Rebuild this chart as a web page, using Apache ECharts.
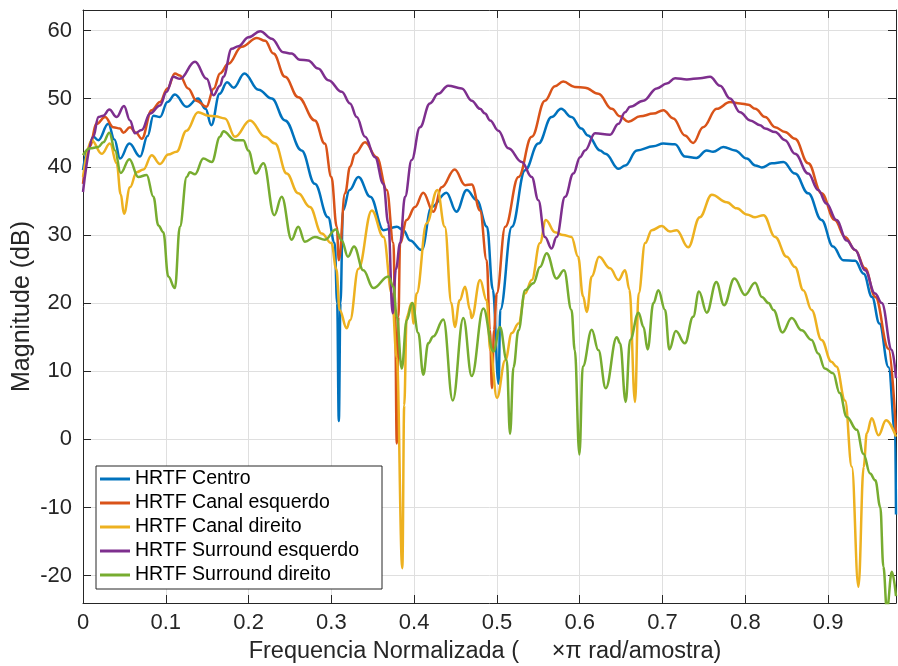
<!DOCTYPE html>
<html><head><meta charset="utf-8">
<script src="https://cdn.jsdelivr.net/npm/echarts@6/dist/echarts.min.js"></script>
<style>html,body{margin:0;padding:0;background:#fff}#c{width:898px;height:666px}</style>
</head><body><div id="c"></div>
<script>
const seriesNames = ['HRTF Centro','HRTF Canal esquerdo','HRTF Canal direito','HRTF Surround esquerdo','HRTF Surround direito'];

const hrtfCentro = [[0,39.5],[0.006,42.5],[0.0125,44.4],[0.0185,43.9],[0.0306,46.3],[0.038,44],[0.0447,41.2],[0.056,43.4],[0.069,41.5],[0.078,44.5],[0.085,47.5],[0.093,47.3],[0.102,49.5],[0.111,50.6],[0.125,48.8],[0.139,50.0],[0.148,48.5],[0.155,46.1],[0.165,50.7],[0.174,52.4],[0.182,51.6],[0.195,53.7],[0.212,51.3],[0.228,50.0],[0.244,46.8],[0.264,42.4],[0.280,37.5],[0.296,32.6],[0.304,28.8],[0.307,20],[0.309,2.7],[0.311,20],[0.314,33.6],[0.322,36.6],[0.3326,38.5],[0.347,35.6],[0.363,30.7],[0.379,31.2],[0.387,30.7],[0.395,29.2],[0.409,27.8],[0.421,34.1],[0.439,36.2],[0.451,33.4],[0.4635,36.6],[0.4756,35.1],[0.488,31.2],[0.495,22],[0.502,8.2],[0.504,19],[0.518,31.2],[0.534,39.5],[0.55,43.4],[0.566,47.3],[0.5775,48.5],[0.590,47.3],[0.602,45.6],[0.610,44.6],[0.6245,42.4],[0.631,41.9],[0.647,39.7],[0.655,40.2],[0.669,42.4],[0.689,43],[0.701,43.4],[0.715,43.3],[0.727,41.5],[0.741,41.3],[0.7534,42.4],[0.761,42.2],[0.7735,42.9],[0.7876,42.4],[0.8018,41.2],[0.812,40.2],[0.82,39.9],[0.832,40.5],[0.846,40.7],[0.860,39],[0.876,36.1],[0.892,32.2],[0.906,28.3],[0.918,26.3],[0.9326,26.2],[0.943,24.3],[0.953,20.9],[0.962,17],[0.973,10.6],[0.981,0.9],[0.982,-11]];

const hrtfCanalEsq = [[0,37.5],[0.008,43],[0.0165,46.3],[0.0266,47.3],[0.0366,45.8],[0.0447,45.6],[0.0487,45],[0.0568,45.8],[0.064,45],[0.0709,44.1],[0.083,48.3],[0.093,49.5],[0.102,51.5],[0.111,53.7],[0.117,53.4],[0.127,51.5],[0.137,49.7],[0.149,48.8],[0.158,51.5],[0.1655,53.7],[0.1755,55.1],[0.1917,57.6],[0.21,58.9],[0.22,58.5],[0.23,56.6],[0.244,53.2],[0.260,50.2],[0.280,46.8],[0.292,43.4],[0.300,38.5],[0.3065,31.2],[0.309,26.3],[0.3165,36.1],[0.3226,40],[0.3286,41.9],[0.3407,43.6],[0.3548,41.4],[0.3669,36.6],[0.375,28.8],[0.377,18],[0.379,-0.6],[0.381,18],[0.383,28.8],[0.391,32.2],[0.401,34.1],[0.411,36.2],[0.423,33.4],[0.4333,37],[0.449,39.6],[0.4615,37.3],[0.4695,37.4],[0.4796,33.6],[0.4876,26.3],[0.4915,16],[0.494,7.5],[0.4965,16],[0.4997,21.4],[0.51,31.2],[0.526,38.5],[0.542,44.4],[0.558,49.7],[0.570,51.8],[0.580,52.5],[0.594,51.7],[0.6064,51.6],[0.6225,50.7],[0.6387,48.5],[0.6487,47.4],[0.6588,46.6],[0.673,47.4],[0.689,47.8],[0.701,48.3],[0.713,47.1],[0.727,44.6],[0.737,43.5],[0.749,45.8],[0.7655,48.5],[0.7816,49.5],[0.7937,49.3],[0.8037,49.1],[0.812,48.5],[0.824,47.3],[0.836,45.8],[0.848,45.1],[0.860,44.1],[0.876,40.5],[0.892,36.1],[0.908,32.2],[0.9205,29.7],[0.9326,27.8],[0.9447,25.1],[0.957,20.9],[0.973,13.3],[0.982,0.9]];

const hrtfCanalDir = [[0,38.5],[0.0105,43.9],[0.0226,41.9],[0.0326,43.4],[0.0407,40.5],[0.0455,36],[0.0495,33.1],[0.0568,37],[0.0648,39.2],[0.0729,39.6],[0.083,41.7],[0.093,40.4],[0.103,41.8],[0.113,42.2],[0.125,45.3],[0.139,48],[0.1514,47.5],[0.1595,47.4],[0.1715,47.1],[0.1836,44.4],[0.2017,46.8],[0.22,44.4],[0.232,43.4],[0.246,39],[0.26,36.1],[0.274,34.1],[0.2883,30.2],[0.300,28.8],[0.306,25],[0.310,19],[0.3185,16.3],[0.3226,17.5],[0.3326,25],[0.3488,33.6],[0.363,29.7],[0.373,21.4],[0.379,12],[0.3857,-18.9],[0.388,5],[0.391,18],[0.397,20],[0.399,17],[0.403,21.4],[0.415,31.7],[0.428,36.6],[0.437,31.2],[0.445,20],[0.449,16.5],[0.455,20.4],[0.4615,22.4],[0.4675,19],[0.4695,17.8],[0.4796,23.4],[0.4876,20.4],[0.492,13.1],[0.5,6.1],[0.51,11.6],[0.518,15.6],[0.526,17],[0.534,21.4],[0.542,23.4],[0.552,28.8],[0.559,32.2],[0.570,30.4],[0.580,30],[0.590,29.7],[0.598,26.8],[0.604,21],[0.6085,18.7],[0.6145,23.9],[0.6233,26.8],[0.6366,25.1],[0.6467,23.4],[0.6548,24.8],[0.660,22],[0.6668,5.5],[0.6711,21.4],[0.679,28.8],[0.687,30.7],[0.699,31.3],[0.709,30.5],[0.717,30.7],[0.731,28.2],[0.745,32.6],[0.7595,35.9],[0.7776,34.8],[0.7897,33.9],[0.8018,33.0],[0.8118,32.6],[0.822,32.9],[0.836,29.7],[0.85,26.8],[0.86,25.3],[0.870,21.9],[0.880,19],[0.892,14.6],[0.904,11.4],[0.910,10.7],[0.9205,5.7],[0.9286,-4],[0.9366,-21.6],[0.943,-4],[0.9467,0.9],[0.9527,3.1],[0.9608,0.6],[0.970,2.8],[0.982,0.4]];

const hrtfSurrEsq = [[0,36.3],[0.0125,44.4],[0.0185,47.3],[0.0245,47.5],[0.0318,48.4],[0.0407,47.3],[0.0495,48.9],[0.0568,46.8],[0.0628,44.9],[0.0709,45.4],[0.081,47.8],[0.093,49],[0.101,51],[0.109,53.2],[0.117,52.9],[0.1353,55.4],[0.1494,52.9],[0.1575,50.5],[0.1655,51.9],[0.1695,53.2],[0.1796,57.3],[0.1876,57.7],[0.2,59],[0.214,59.9],[0.228,58.8],[0.242,56.8],[0.252,56.6],[0.262,55.7],[0.272,55.6],[0.284,54.4],[0.2963,52.7],[0.3125,51],[0.3225,49.3],[0.3306,47.3],[0.3407,44.4],[0.3527,41.4],[0.3628,37.5],[0.3688,31.7],[0.374,18.5],[0.378,25],[0.383,28.8],[0.389,35.6],[0.397,41],[0.407,45.8],[0.419,49.3],[0.429,50.7],[0.441,51.9],[0.4575,51.5],[0.4695,49.7],[0.4796,48.5],[0.4856,47.8],[0.4917,46.8],[0.5017,45.3],[0.5138,42.7],[0.53,40.7],[0.542,38.5],[0.55,35.1],[0.558,29.7],[0.566,28],[0.572,29.7],[0.5823,35.6],[0.5923,39],[0.6004,41.4],[0.6064,42.4],[0.6185,44.9],[0.6366,44.7],[0.6467,46.3],[0.6547,48],[0.6608,48.8],[0.6769,49.7],[0.693,51.5],[0.7051,52.2],[0.7152,53],[0.7293,52.8],[0.7454,53],[0.7574,53.2],[0.7695,51.9],[0.7816,50],[0.7937,48],[0.8058,46.8],[0.8178,46.1],[0.8239,45.6],[0.836,45.1],[0.848,43.9],[0.860,41.9],[0.876,39],[0.888,36.6],[0.898,34.6],[0.910,32.2],[0.9225,29.2],[0.9326,27.8],[0.9447,24.8],[0.9567,21.4],[0.9648,20],[0.977,13.1],[0.982,9]];

const hrtfSurrDir = [[0,41.7],[0.0085,42.7],[0.0185,42.9],[0.0245,43.6],[0.0318,45],[0.0387,42.4],[0.0455,39.1],[0.056,41.1],[0.0668,38.5],[0.0769,38.8],[0.085,35.6],[0.091,31.4],[0.097,30.4],[0.103,23.9],[0.111,22.2],[0.117,31.2],[0.1253,38.5],[0.129,39.2],[0.1353,38.9],[0.1453,41.2],[0.1555,40.7],[0.1655,44.4],[0.1695,45.2],[0.1836,43.9],[0.1937,43.9],[0.1997,42.4],[0.2086,39],[0.218,40.5],[0.231,32.9],[0.240,35.6],[0.252,29.3],[0.260,31.2],[0.268,29],[0.280,29.7],[0.2923,29.3],[0.3053,30.8],[0.3125,29.2],[0.320,26.8],[0.3274,28.3],[0.3386,24.8],[0.3507,22.2],[0.3688,23.9],[0.375,22.4],[0.379,18],[0.385,10.4],[0.391,17.5],[0.3978,20],[0.405,15.6],[0.411,9.5],[0.417,14.1],[0.423,15.1],[0.4353,17.6],[0.4466,5.7],[0.4594,17.8],[0.4695,9.3],[0.4836,19.2],[0.4957,12.9],[0.5037,16.5],[0.5118,11.6],[0.5158,0.8],[0.52,10.6],[0.526,16],[0.534,21.9],[0.544,22.9],[0.552,25.3],[0.560,27.3],[0.572,23.6],[0.581,24.8],[0.590,19],[0.594,13.1],[0.5996,-2.2],[0.6037,10.7],[0.6145,16.1],[0.6225,13.1],[0.6314,7.5],[0.6447,15],[0.6487,14.1],[0.6555,5.5],[0.6608,14.6],[0.671,18.6],[0.677,16.5],[0.682,13.2],[0.689,20],[0.695,21.9],[0.703,19],[0.7083,13.2],[0.716,15.9],[0.727,14.1],[0.737,18],[0.744,21.7],[0.7534,18.6],[0.765,23.1],[0.7743,19.7],[0.7868,23.6],[0.7997,21.2],[0.8118,23],[0.82,20.9],[0.828,20],[0.834,19],[0.8448,15.7],[0.856,17.8],[0.868,16],[0.880,14.6],[0.888,12.6],[0.896,10.4],[0.906,9.7],[0.914,6.8],[0.9225,3.3],[0.9346,1.4],[0.9426,-2.1],[0.9507,-5],[0.957,-6],[0.963,-9.9],[0.9668,-18.7],[0.971,-25],[0.977,-19.4],[0.982,-23]];

const allData = [hrtfCentro, hrtfCanalEsq, hrtfCanalDir, hrtfSurrEsq, hrtfSurrDir];
const colors = ['#0072BD','#D95319','#EDB120','#7E2F8E','#77AC30'];
const xMin = 0, xMax = 0.982, yMin = -24, yMax = 63;
const FONT = "'Liberation Sans', Arial, Helvetica, sans-serif";
const AX = '#262626';

function xFmt(v){ const r = Math.round(v*10); return Math.abs(v*10 - r) < 1e-6 ? String(r/10) : ''; }
function yFmt(v){ const r = Math.round(v/10); return Math.abs(v/10 - r) < 1e-6 ? String(r*10) : ''; }

const chart = echarts.init(document.getElementById('c'), null, {renderer:'canvas'});
chart.setOption({
  animation: false,
  backgroundColor: '#fff',
  textStyle: {fontFamily: FONT},
  grid: {left: 83, right: 2, top: 10, bottom: 63, containLabel: false, outerBoundsMode: 'none'},
  legend: {
    orient: 'vertical', left: 96, top: 466,
    icon: 'rect', itemWidth: 30, itemHeight: 3, itemGap: 4,
    padding: [3, 23, 4, 4],
    backgroundColor: '#fff', borderColor: AX, borderWidth: 1, borderRadius: 0,
    textStyle: {fontSize: 19.5, color: '#000', lineHeight: 20, fontFamily: FONT},
    data: seriesNames
  },
  xAxis: [
    {type: 'value', min: xMin, max: xMax, interval: 0.1, position: 'bottom',
     axisLine: {show: true, onZero: false, lineStyle: {color: AX, width: 1}},
     axisTick: {show: true, inside: true, length: 8, lineStyle: {color: AX}},
     axisLabel: {formatter: xFmt, fontSize: 22, color: AX, margin: 9, showMaxLabel: false, fontFamily: FONT},
     splitLine: {show: true, lineStyle: {color: '#dfdfdf', width: 1}},
     name: 'Frequencia Normalizada (     ×π rad/amostra)', nameLocation: 'middle', nameGap: 37,
     nameTextStyle: {fontSize: 23.5, color: AX, fontFamily: FONT, padding: [0, 9, 0, 0]}},
    {type: 'value', min: xMin, max: xMax, interval: 0.1, position: 'top',
     axisLine: {show: true, onZero: false, lineStyle: {color: AX, width: 1}},
     axisTick: {show: true, inside: true, length: 8, lineStyle: {color: AX}},
     axisLabel: {show: false}, splitLine: {show: false}}
  ],
  yAxis: [
    {type: 'value', min: yMin, max: yMax, splitNumber: 9, position: 'left',
     axisLine: {show: true, onZero: false, lineStyle: {color: AX, width: 1}},
     axisTick: {show: true, inside: true, length: 8, lineStyle: {color: AX}},
     axisLabel: {formatter: yFmt, fontSize: 22, color: AX, margin: 11, showMinLabel: false, showMaxLabel: false, fontFamily: FONT},
     splitLine: {show: true, lineStyle: {color: '#dfdfdf', width: 1}},
     name: 'Magnitude (dB)', nameLocation: 'middle', nameGap: 48, nameRotate: 90, nameMoveOverlap: false,
     nameTextStyle: {fontSize: 25, color: AX, fontFamily: FONT}},
    {type: 'value', min: yMin, max: yMax, splitNumber: 9, position: 'right',
     axisLine: {show: true, onZero: false, lineStyle: {color: AX, width: 1}},
     axisTick: {show: true, inside: true, length: 8, lineStyle: {color: AX}},
     axisLabel: {show: false}, splitLine: {show: false}}
  ],
  series: allData.map((d, i) => ({
    name: seriesNames[i], type: 'line', data: d,
    xAxisIndex: 0, yAxisIndex: 0,
    symbol: 'none', showSymbol: false, smooth: 0.4, smoothMonotone: 'x',
    clip: true,
    lineStyle: {color: colors[i], width: 2.5},
    itemStyle: {color: colors[i]},
    z: 2 + i
  }))
});
</script>
</body></html>
